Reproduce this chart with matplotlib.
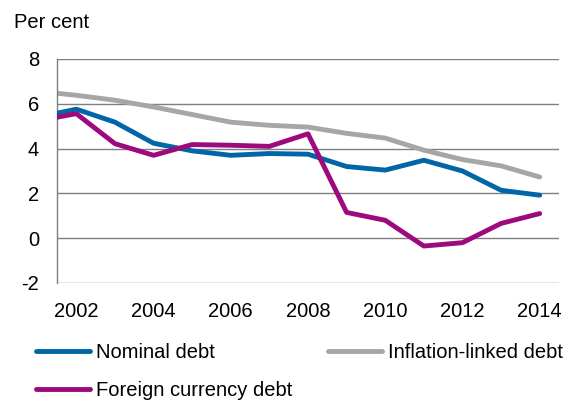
import matplotlib
matplotlib.use("Agg")
import matplotlib.pyplot as plt

plt.rcParams['font.family'] = ['Liberation Sans', 'DejaVu Sans']

# yearly values, per cent (2001 value only shows as the clipped start of the line)
years = list(range(2001, 2015))
nominal = [5.40, 5.76, 5.18, 4.24, 3.90, 3.70, 3.78, 3.75, 3.20, 3.04, 3.48, 3.00, 2.14, 1.92]
inflation = [6.56, 6.38, 6.16, 5.86, 5.52, 5.18, 5.04, 4.96, 4.68, 4.47, 3.93, 3.51, 3.23, 2.73]
foreign = [5.24, 5.56, 4.22, 3.70, 4.18, 4.15, 4.10, 4.66, 1.15, 0.80, -0.35, -0.20, 0.66, 1.10]

xticks = [2002, 2004, 2006, 2008, 2010, 2012, 2014]
yticks = [-2, 0, 2, 4, 6, 8]

blue = '#0066a8'
grey = '#a6a6a6'
purple = '#9c0a7e'

fig = plt.figure(figsize=(5.74, 4.0), dpi=100)
ax = fig.add_axes([57 / 574, 1 - 283 / 400, (559 - 57) / 574, (283 - 59) / 400])

ax.plot(years, nominal, color=blue, lw=3.5, label='Nominal debt', solid_capstyle='round', zorder=3)
ax.plot(years, foreign, color=purple, lw=3.5, label='Foreign currency debt', solid_capstyle='round', zorder=3)
ax.plot(years, inflation, color=grey, lw=3.5, label='Inflation-linked debt', solid_capstyle='round', zorder=2)

ax.set_xlim(2001.5, 2014.5)
ax.set_ylim(-2, 8)
ax.set_xticks(xticks)
ax.set_yticks(yticks)
ax.set_yticklabels([str(t) for t in yticks])

for y in yticks:
    ax.axhline(y, color='#7f7f7f', lw=1.0, zorder=1)

for s in ['top', 'right', 'bottom']:
    ax.spines[s].set_visible(False)
ax.spines['left'].set_color('#7f7f7f')
ax.spines['left'].set_linewidth(1.0)

ax.tick_params(axis='both', length=0, labelsize=14.5)
ax.tick_params(axis='y', pad=13)
ax.tick_params(axis='x', pad=14)

fig.text(14 / 574, 1 - 22 / 400, 'Per cent', fontsize=14.5, va='center', ha='left')

ax.legend(loc='upper left', bbox_to_anchor=(36 / 574, 1 - 343 / 400),
          bbox_transform=fig.transFigure, ncol=2, frameon=False,
          fontsize=14.5, handlelength=2.7, handletextpad=0.3,
          columnspacing=1.75, labelspacing=0.95, borderaxespad=0, borderpad=0)

fig.savefig('out.png', dpi=100)
